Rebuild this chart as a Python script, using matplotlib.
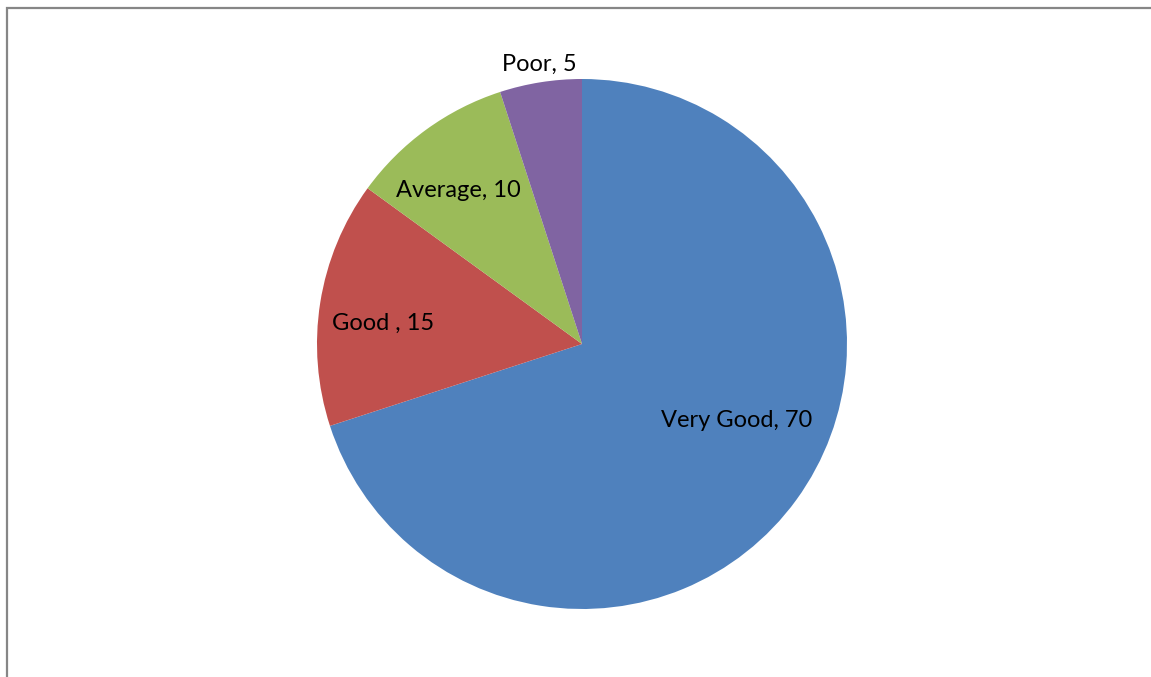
import matplotlib.pyplot as plt
from matplotlib.patches import Rectangle

categories = ["Very Good", "Good ", "Average", "Poor"]
values = [70, 15, 10, 5]
colors = ["#4F81BD", "#C0504D", "#9BBB59", "#8064A2"]
# label centres in pie data units (radius = 1)
label_pos = [(0.585, -0.287), (-0.751, 0.079), (-0.468, 0.581), (-0.162, 1.057)]

W, H = 1151, 677
fig = plt.figure(figsize=(W / 100, H / 100), dpi=100)
fig.patch.set_facecolor("white")

# chart area frame (runs off the right and bottom edges)
fig.add_artist(Rectangle((7 / W, -0.05), 1.1, (H - 8) / H + 0.05,
                         transform=fig.transFigure, fill=False,
                         edgecolor="#868686", linewidth=1.6))

ax = fig.add_axes([317 / W, 68 / H, 530 / W, 530 / H])
ax.pie(values, colors=colors, startangle=90, counterclock=False, radius=1,
       wedgeprops=dict(linewidth=0))
for name, v, (x, y) in zip(categories, values, label_pos):
    ax.text(x, y, f"{name}, {v}", ha="center", va="center", fontsize=17,
            family=["Lato", "DejaVu Sans"], color="black")
ax.set_xlim(-1, 1)
ax.set_ylim(-1, 1)
ax.set_aspect("equal")
ax.axis("off")

fig.savefig("out.png", dpi=100)
